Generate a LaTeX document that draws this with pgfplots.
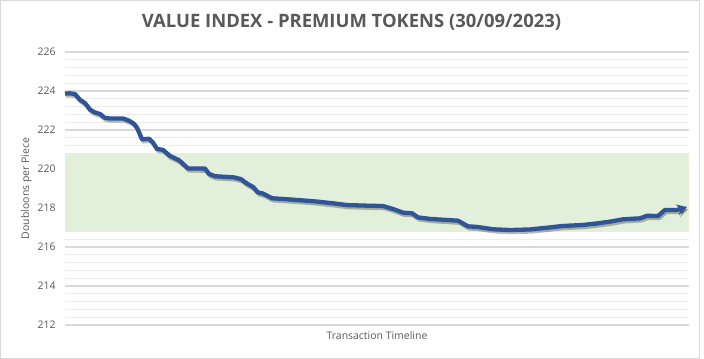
\documentclass[border=0pt]{standalone}
\usepackage{pgfplots}
\pgfplotsset{compat=1.18}
\usepackage{fontspec}
\setmainfont{Open Sans}
\usetikzlibrary{arrows.meta}
\definecolor{linec}{RGB}{47,85,151}
\definecolor{bandc}{RGB}{226,239,218}
\definecolor{majg}{RGB}{217,217,217}
\definecolor{ming}{RGB}{236,236,236}
\definecolor{txtg}{RGB}{89,89,89}
\definecolor{bordg}{RGB}{217,217,217}
\pgfplotstableread{
x y
0 223.87
5 223.88
10 223.84
15 223.55
20 223.38
25 223.05
29 222.92
35 222.82
40 222.62
45 222.59
58 222.59
64 222.48
69 222.32
72 222.12
77 221.52
84 221.55
88 221.35
92 221.03
98 220.98
105 220.67
114 220.45
123 220.03
140 220.02
144 219.75
150 219.63
160 219.6
169 219.57
176 219.48
182 219.25
188 219.08
193 218.8
198 218.74
207 218.5
222 218.45
235 218.4
252 218.33
268 218.24
282 218.15
302 218.12
318 218.1
328 217.95
338 217.76
347 217.73
353 217.52
365 217.44
393 217.35
403 217.06
412 217.03
428 216.91
445 216.87
465 216.9
482 216.99
498 217.08
518 217.13
532 217.21
545 217.3
558 217.42
575 217.47
582 217.6
593 217.59
600 217.9
612 217.9
622 218.05
}\valuedata
\begin{document}
\begin{tikzpicture}
\useasboundingbox (-65bp,-34bp) rectangle (639bp,325bp);
\draw[bordg, line width=0.9bp, fill=white] (-64.5bp,-33bp) rectangle (634.5bp,324.5bp);
\begin{axis}[
  at={(0,0)}, anchor=south west,
  scale only axis, width=624bp, height=273bp,
  xmin=0, xmax=624, ymin=212, ymax=226,
  axis line style={draw=none},
  ytick={212,214,...,226},
  minor y tick num=4,
  xtick=\empty,
  major tick length=0pt, minor tick length=0pt,
  ymajorgrids, yminorgrids,
  major grid style={majg, line width=2.6bp},
  minor grid style={ming, line width=1bp},
  yticklabel style={font=\fontsize{10.5}{12}\selectfont, text=txtg, xshift=-6bp},
  /pgf/number format/assume math mode=true,
  clip=false,
]
\addplot[draw=none, fill=bandc] coordinates {(0,216.77) (624,216.77) (624,220.77) (0,220.77)} -- cycle;
\addplot[black, opacity=0.28, line width=4bp, line join=round, transform canvas={shift={(1.2bp,-2.2bp)}}, -{Stealth[length=10bp,width=11bp]}] table[x=x,y=y] {\valuedata};
\addplot[linec, line width=4.3bp, line join=round, -{Stealth[length=10bp,width=11bp]}] table[x=x,y=y] {\valuedata};
\end{axis}
\node[anchor=base, text=txtg, font=\fontsize{18.5}{22}\selectfont\bfseries] at (286.5bp,297bp) {VALUE INDEX - PREMIUM TOKENS (30/09/2023)};
\node[anchor=base, text=txtg, font=\fontsize{10.5}{12}\selectfont] at (312bp,-14bp) {Transaction Timeline};
\node[anchor=base, rotate=90, text=txtg, font=\fontsize{10.5}{12}\selectfont] at (-36bp,136.5bp) {Doubloons per Piece};
\end{tikzpicture}
\end{document}
